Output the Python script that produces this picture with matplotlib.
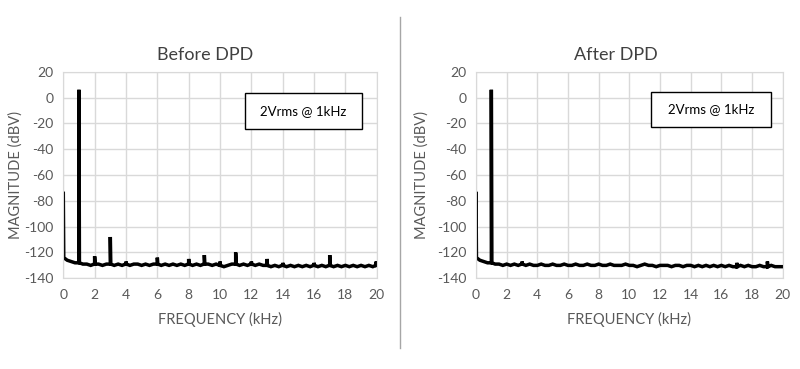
import numpy as np
import matplotlib
matplotlib.use("Agg")
import matplotlib.pyplot as plt
from matplotlib.patches import Rectangle
from matplotlib.lines import Line2D

plt.rcParams['font.family'] = ['Lato', 'DejaVu Sans']

titles = ["Before DPD", "After DPD"]
annotation = "2Vrms @ 1kHz"
x_label = "FREQUENCY (kHz)"
y_label = "MAGNITUDE (dBV)"
x_ticks = [0, 2, 4, 6, 8, 10, 12, 14, 16, 18, 20]
y_ticks = [20, 0, -20, -40, -60, -80, -100, -120, -140]

# noise floor sampled every 0.25 kHz from 0 to 20 kHz
floor_freq = [i * 0.25 for i in range(81)]
before_floor = [
    -124, -126, -127, -128, -128, -129, -129, -130, -129, -129,
    -130, -129, -129, -130, -129, -130, -129, -130, -129, -129,
    -130, -129, -130, -129, -129, -130, -129, -130, -129, -130,
    -129, -130, -129, -130, -129, -130, -129, -129, -130, -129,
    -130, -131, -130, -129, -129, -130, -129, -130, -129, -130,
    -129, -130, -130, -131, -130, -131, -130, -131, -130, -131,
    -130, -131, -130, -131, -130, -131, -130, -131, -130, -131,
    -130, -131, -130, -131, -130, -131, -130, -131, -130, -131,
    -130,
]
after_floor = [
    -124, -126, -127, -128, -128, -129, -129, -130, -129, -130,
    -129, -130, -129, -130, -129, -130, -130, -129, -130, -130,
    -129, -130, -130, -129, -130, -130, -129, -130, -130, -129,
    -130, -130, -129, -130, -130, -129, -130, -130, -130, -129,
    -130, -130, -131, -130, -129, -130, -130, -131, -130, -130,
    -130, -131, -130, -130, -131, -130, -130, -131, -130, -131,
    -130, -131, -130, -131, -130, -131, -130, -131, -131, -130,
    -131, -130, -131, -131, -130, -131, -131, -130, -131, -131,
    -131,
]

# spikes: frequency (kHz), peak (dBV)
before_spike_freq = [0.0, 1.0, 2.0, 3.0, 4.0, 6.0, 8.0, 9.0, 10.0, 11.0, 12.0, 13.0, 14.0, 16.0, 17.0, 19.97]
before_spike_mag = [-73, 6, -123, -108, -127, -124, -125, -122, -127, -120, -127, -125, -128, -128, -122, -127]
after_spike_freq = [0.0, 1.0, 3.0, 17.0, 19.0]
after_spike_mag = [-73, 6, -127, -128, -127]


def build_trace(ff, fv, sf, sv):
    ff = np.asarray(ff, float)
    fv = np.asarray(fv, float)
    xs = list(ff)
    ys = list(fv)
    w = 0.03
    for f, p in zip(sf, sv):
        base = fv[np.argmin(np.abs(ff - f))]
        for dx, val in ((-w, base), (0.0, p), (w, base)):
            x = f + dx
            if 0 <= x <= 20:
                xs.append(x)
                ys.append(val)
    order = np.argsort(xs, kind="stable")
    return np.array(xs)[order], np.array(ys)[order]


fig = plt.figure(figsize=(8.0, 3.69), dpi=100)
text_color = "#595959"
grid_color = "#d9d9d9"

axes_pos = [[0.0791, 0.2458, 0.3918, 0.5599], [0.595, 0.2458, 0.3834, 0.5599]]
series = [
    (before_floor, before_spike_freq, before_spike_mag),
    (after_floor, after_spike_freq, after_spike_mag),
]
title_pos = [(0.256, 0.851), (0.770, 0.851)]
xlabel_pos = [(0.275, 0.133), (0.786, 0.133)]
ylabel_pos = [(0.020, 0.526), (0.527, 0.526)]
box_pos = [(0.306, 0.6504, 0.146, 0.0976), (0.814, 0.6558, 0.150, 0.095)]

for i in range(2):
    ax = fig.add_axes(axes_pos[i])
    floor, sf, sv = series[i]
    x, y = build_trace(floor_freq, floor, sf, sv)
    ax.plot(x, y, color="black", lw=2.5, solid_joinstyle="miter")
    ax.set_xlim(0, 20)
    ax.set_ylim(-140, 20)
    ax.set_xticks(x_ticks)
    ax.set_yticks(y_ticks)
    ax.set_xticklabels([str(t) for t in x_ticks])
    ax.set_yticklabels([str(t) for t in y_ticks])
    ax.grid(True, color=grid_color, lw=1.0)
    ax.set_axisbelow(True)
    for s in ax.spines.values():
        s.set_color(grid_color)
    ax.tick_params(axis="y", length=0, colors=text_color, labelsize=10, pad=7)
    ax.tick_params(axis="x", length=0, colors=text_color, labelsize=10, pad=8)
    fig.text(*title_pos[i], titles[i], ha="center", va="center", fontsize=13, color="#404040")
    fig.text(*xlabel_pos[i], x_label, ha="center", va="center", fontsize=10.5, color=text_color)
    fig.text(*ylabel_pos[i], y_label, ha="center", va="center", rotation=90, fontsize=10.5, color=text_color)
    bx, by, bw, bh = box_pos[i]
    fig.patches.append(Rectangle((bx, by), bw, bh, transform=fig.transFigure,
                                 facecolor="white", edgecolor="black", lw=1.0, zorder=5))
    fig.text(bx + bw / 2, by + bh / 2, annotation, ha="center", va="center",
             fontsize=9.5, color="black", zorder=6)

fig.lines.append(Line2D([0.5, 0.5], [0.057, 0.954], transform=fig.transFigure, color="#a6a6a6", lw=1.0))

fig.savefig("out.png", dpi=100, facecolor="white")
